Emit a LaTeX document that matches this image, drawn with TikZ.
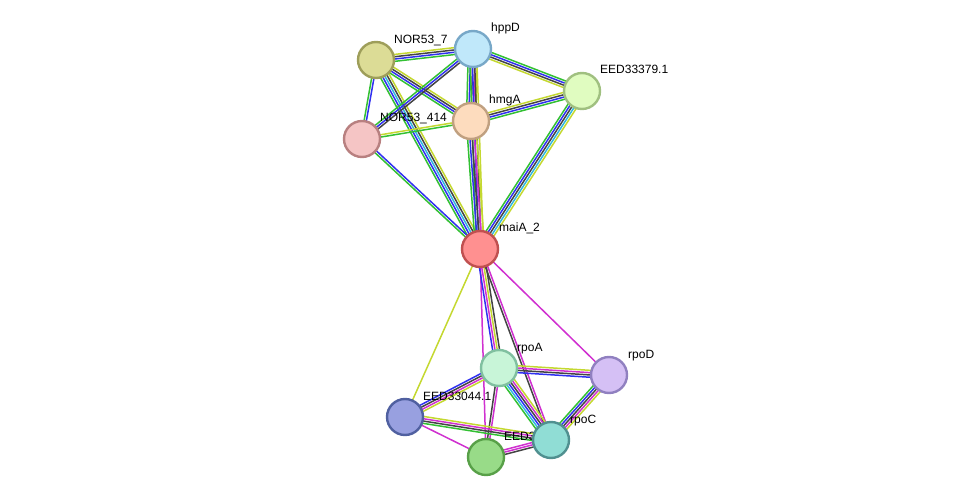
\documentclass[tikz,border=0pt]{standalone}
\usepackage{fontspec}
\setmainfont{Liberation Sans}
\usetikzlibrary{calc,backgrounds}

\definecolor{cgreen}{HTML}{33C033}
\definecolor{cblue}{HTML}{3030F0}
\definecolor{cblack}{HTML}{444444}
\definecolor{cmag}{HTML}{D030D0}
\definecolor{cyel}{HTML}{C4D830}
\definecolor{ccyan}{HTML}{30B8E0}

% parallel coloured lines between two nodes
\newcommand{\link}[3]{%
  \foreach \c [count=\i] in {#3} {\xdef\nlines{\i}}%
  \foreach \c [count=\i] in {#3} {%
    \pgfmathsetmacro{\off}{(\i-(\nlines+1)/2)*2.3}%
    \draw[edge, \c] ($(#1)!\off pt!90:(#2)$) -- ($(#2)!\off pt!-90:(#1)$);}%
}

\tikzset{
  edge/.style={line width=1.5pt},
  prot/.style={circle, minimum size=36pt, inner sep=0pt, line width=2.4pt},
  lbl/.style={font=\fontsize{12}{12}\selectfont, anchor=base west, inner sep=1pt}
}

\begin{document}
\begin{tikzpicture}[x=1pt,y=-1pt]
\useasboundingbox (0,0) rectangle (976,502);
\node[prot, fill={rgb,255:red,220;green,220;blue,150}, draw={rgb,255:red,158;green,158;blue,90}] (nor7) at (376,60) {};
\node[prot, fill={rgb,255:red,192;green,232;blue,250}, draw={rgb,255:red,120;green,168;blue,200}] (hppd) at (473,49) {};
\node[prot, fill={rgb,255:red,224;green,252;blue,192}, draw={rgb,255:red,160;green,192;blue,128}] (eed379) at (582,91) {};
\node[prot, fill={rgb,255:red,253;green,220;blue,190}, draw={rgb,255:red,192;green,160;blue,128}] (hmga) at (471,121) {};
\node[prot, fill={rgb,255:red,245;green,197;blue,197}, draw={rgb,255:red,184;green,128;blue,128}] (nor414) at (362,139) {};
\node[prot, fill={rgb,255:red,255;green,144;blue,144}, draw={rgb,255:red,192;green,80;blue,80}] (maia) at (480,249) {};
\node[prot, fill={rgb,255:red,200;green,245;blue,216}, draw={rgb,255:red,128;green,192;blue,160}] (rpoa) at (499,368) {};
\node[prot, fill={rgb,255:red,213;green,192;blue,245}, draw={rgb,255:red,144;green,128;blue,192}] (rpod) at (609,375) {};
\node[prot, fill={rgb,255:red,152;green,160;blue,224}, draw={rgb,255:red,80;green,96;blue,160}] (eed044) at (405,417) {};
\node[lbl] (leed3) at (503,440) {EED3};
\node[prot, fill={rgb,255:red,152;green,219;blue,136}, draw={rgb,255:red,88;green,160;blue,72}] (eed3) at (486,457) {};
\node[prot, fill={rgb,255:red,144;green,221;blue,213}, draw={rgb,255:red,80;green,144;blue,144}] (rpoc) at (551,440) {};

\node[lbl] (lnor7) at (393,44) {NOR53\_7};
\node[lbl] (lhppd) at (490,32) {hppD};
\node[lbl] (leed379) at (599,74) {EED33379.1};
\node[lbl] (lhmga) at (488,104) {hmgA};
\node[lbl] (lnor414) at (379,122) {NOR53\_414};
\node[lbl] (lmaia) at (498,232) {maiA\_2};
\node[lbl] (lrpoa) at (516,351) {rpoA};
\node[lbl] (lrpod) at (627,358) {rpoD};
\node[lbl] (leed044) at (422,400) {EED33044.1};
\node[lbl] (lrpoc) at (569,423) {rpoC};

\begin{scope}[on background layer]
\link{nor7}{hppd}{cgreen,cblue,cblack,cyel}
\link{nor7}{hmga}{cgreen,cblue,cblack,cyel}
\link{nor7}{nor414}{cgreen,cblue}
\link{nor7}{maia}{cgreen,cblue,ccyan,cblack,cyel}
\link{hppd}{nor414}{cgreen,cblue,cblack}
\link{hppd}{hmga}{cgreen,cblue,cblack,cmag,cyel}
\link{hppd}{eed379}{cyel,cblack,cblue,cgreen}
\link{hppd}{maia}{cgreen,cblue,cblack,cyel}
\link{hmga}{nor414}{cyel,cgreen}
\link{hmga}{eed379}{cgreen,cblue,cblack,cyel}
\link{hmga}{maia}{cgreen,cblue,cblack,cmag,cyel}
\link{nor414}{maia}{cgreen,cblue}
\link{eed379}{maia}{cgreen,cblue,cblack,ccyan,cyel}
\link{maia}{eed044}{cyel}
\link{maia}{eed3}{cmag}
\link{maia}{rpoa}{cblue,cmag,cyel,cblack}
\link{maia}{rpoc}{cblack,cmag}
\link{maia}{rpod}{cmag}
\link{rpoa}{rpod}{cblue,cblack,cmag,cyel}
\link{rpoa}{eed044}{cblue,cblack,cmag,cyel}
\link{rpoa}{eed3}{cblack,cmag}
\link{rpoa}{rpoc}{cgreen,ccyan,cblue,cblack,cmag,cyel}
\link{rpod}{rpoc}{cgreen,cblue,cblack,cmag,cyel}
\link{eed044}{rpoc}{cgreen,cblack,cmag,cyel}
\link{eed044}{eed3}{cmag}
\link{eed3}{rpoc}{cblack,cmag,cmag}
\end{scope}
\end{tikzpicture}
\end{document}
